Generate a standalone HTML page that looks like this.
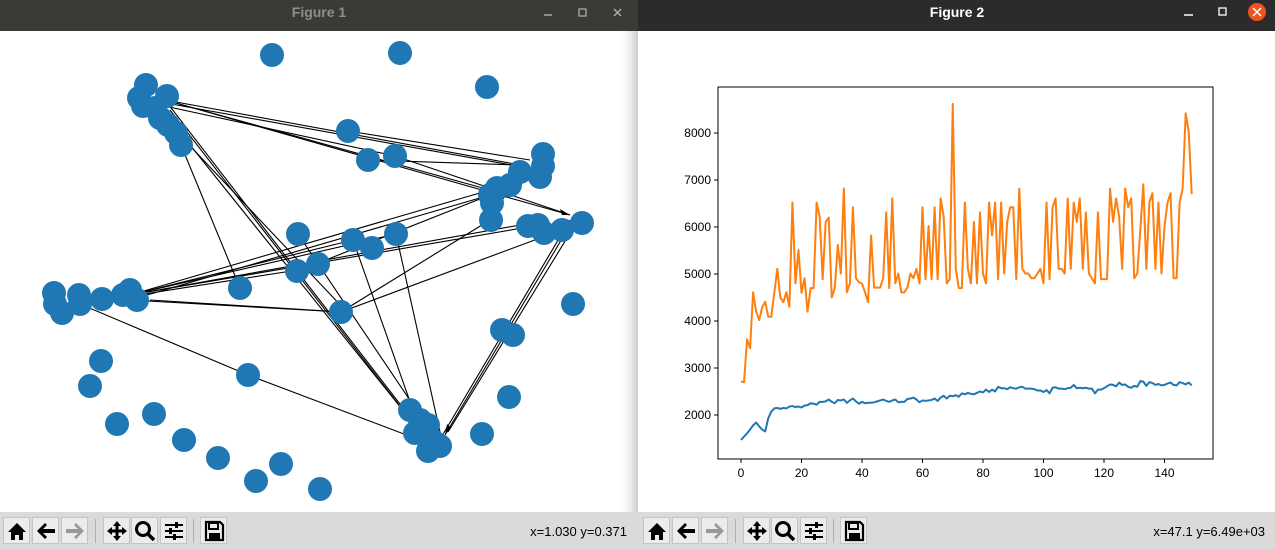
<!DOCTYPE html>
<html><head><meta charset="utf-8"><style>
html,body{margin:0;padding:0;width:1275px;height:549px;overflow:hidden;background:#fff;font-family:"Liberation Sans",sans-serif}
.btn{position:absolute;top:517px;width:27px;height:27px;background:#ececec;border:1px solid #c4c4c4;box-sizing:border-box}
.btn svg{position:absolute;left:0;top:0}
</style></head><body>
<svg width="1275" height="549" style="position:absolute;left:0;top:0">
 <defs><linearGradient id="sh" x1="0" x2="1"><stop offset="0" stop-color="#fff" stop-opacity="0"/><stop offset="1" stop-color="#ccc"/></linearGradient></defs>
 <rect x="0" y="0" width="638" height="31" fill="#3b3a37"/>
 <text x="319" y="17" font-size="14" font-weight="bold" fill="#8f8e8b" text-anchor="middle">Figure 1</text>
 <line x1="544" y1="15" x2="552" y2="15" stroke="#aaa" stroke-width="1.5"/>
 <rect x="579" y="9" width="7" height="7" fill="none" stroke="#aaa" stroke-width="1.3"/>
 <path d="M614 9 L621 16 M621 9 L614 16" stroke="#aaa" stroke-width="1.5"/>
 <rect x="618" y="31" width="20" height="481" fill="url(#sh)"/>
 <rect x="0" y="512" width="638" height="37" fill="#dadada"/>
 <text x="627" y="536" font-size="13" text-anchor="end" fill="#000">x=1.030 y=0.371</text>
 <g id="net"></g>
 <rect x="638" y="0" width="637" height="31" fill="#2c2a2a"/>
 <text x="957" y="17" font-size="14" font-weight="bold" fill="#fff" text-anchor="middle">Figure 2</text>
 <line x1="1184" y1="15" x2="1193" y2="15" stroke="#fff" stroke-width="1.5"/>
 <rect x="1219" y="8" width="7" height="7" fill="none" stroke="#fff" stroke-width="1.3"/>
 <circle cx="1257" cy="12" r="9" fill="#e95420"/>
 <path d="M1253 8 L1261 16 M1261 8 L1253 16" stroke="#fff" stroke-width="1.5"/>
 <rect x="638" y="512" width="637" height="37" fill="#dadada"/>
 <text x="1265" y="536" font-size="13" text-anchor="end" fill="#000">x=47.1 y=6.49e+03</text>
 <g id="chart"></g>
</svg>
<div id="tb"></div>
<script>
const xTicks=[0,20,40,60,80,100,120,140];
const yTicks=[2000,3000,4000,5000,6000,7000,8000];
const seriesA=[1470,1540,1610,1690,1780,1840,1760,1690,1650,1930,2070,
2140,2150,2130,2150,2140,2180,2190,2170,2180,2160,
2200,2210,2250,2240,2220,2280,2280,2290,2330,2280,
2250,2320,2310,2330,2260,2310,2350,2290,2240,2280,
2250,2260,2260,2270,2290,2310,2330,2300,2280,2310,
2330,2270,2280,2280,2340,2350,2370,2330,2270,2310,
2300,2310,2320,2350,2300,2370,2410,2350,2410,2400,
2420,2390,2460,2440,2470,2450,2440,2470,2500,2480,
2540,2490,2540,2500,2600,2570,2570,2550,2590,2570,
2560,2590,2600,2560,2560,2560,2550,2520,2520,2490,
2530,2460,2580,2590,2560,2560,2550,2570,2580,2640,
2570,2580,2570,2580,2560,2560,2460,2540,2540,2570,
2610,2650,2640,2610,2690,2640,2650,2600,2580,2620,
2600,2720,2710,2620,2700,2680,2640,2660,2630,2640,
2670,2690,2640,2630,2700,2680,2650,2690,2630];
const seriesB=[2710,2700,3610,3420,4610,4200,4020,4290,4410,4090,
4090,4590,5110,4500,4400,4610,4300,6520,4800,5510,
4600,4910,4200,4700,4700,6520,6220,4890,6110,6200,
4500,4700,5620,5010,6820,4610,4800,6420,4910,4820,
4800,4610,4400,5820,4710,4710,4710,4910,6310,4700,
6610,4800,5010,4610,4610,4710,5010,4910,5110,4800,
6420,4890,6020,4890,6420,4890,6610,6220,4800,4890,
8620,5110,4700,4700,6520,5110,4800,6110,4800,6310,
5010,4800,6520,5820,6520,4890,6520,5010,6110,6420,
6420,4890,6820,5110,5010,5010,4910,4910,5010,5110,
4800,6520,4890,6420,6610,5110,5110,5010,6610,5110,
6520,6110,6610,5110,6310,5010,4910,4800,6310,4890,
4890,4890,6820,6110,6610,6220,5110,6820,6420,6610,
4910,5010,5940,6910,5110,6520,6720,5110,6520,5010,
6010,6520,6720,4910,4910,6520,6820,8420,8030,6700];
const NS='http://www.w3.org/2000/svg';
function mk(tag,attrs,parent){const e=document.createElementNS(NS,tag);for(const k in attrs)e.setAttribute(k,attrs[k]);parent.appendChild(e);return e;}
const X=i=>741+3.025*i, Y=v=>415-(v-2000)*0.047;
const ch=document.getElementById('chart');
const frame=mk('rect',{x:718,y:87,width:495,height:372,fill:'none',stroke:'#000','stroke-width':1},ch);


xTicks.forEach(t=>{
 mk('line',{x1:X(t),x2:X(t),y1:459,y2:463,stroke:'#000'},ch);
 const tx=mk('text',{x:X(t),y:477,'font-size':12,'text-anchor':'middle',fill:'#000'},ch);tx.textContent=t;
 
 
});
yTicks.forEach(t=>{
 mk('line',{x1:714,x2:718,y1:Y(t),y2:Y(t),stroke:'#000'},ch);
 const tx=mk('text',{x:711,y:Y(t)+4,'font-size':12,'text-anchor':'end',fill:'#000'},ch);tx.textContent=t;
 
 
});
function line(arr,col,name){const p=mk('polyline',{points:arr.map((v,i)=>X(i)+','+Y(v)).join(' '),fill:'none',stroke:col,'stroke-width':2,'stroke-linejoin':'round'},ch);
 
 }
line(seriesA,'#1f77b4','series-blue');
line(seriesB,'#ff7f0e','series-orange');
const net=document.getElementById('net');
const edges=[[165,100,520,165],[165,100,570,215],[165,100,490,190],[160,102,528,168],[165,100,420,430],[170,110,420,432],[178,130,422,434],[175,130,345,310],[181,145,240,288],[160,105,395,156],
[130,295,490,190],[130,295,520,225],[130,295,540,225],[130,295,396,234],[130,295,353,240],[125,297,298,270],[130,300,341,312],[130,300,490,195],[80,304,248,375],[248,375,425,442],
[353,240,420,430],[396,234,440,432],[572,222,445,435],[575,225,448,432],[570,220,442,436],[341,312,490,220],[490,195,298,271],[395,156,570,215],[348,131,530,160],[368,160,520,165],[298,234,430,430],[341,312,575,225],[150,300,343,312],[510,190,490,215]];
edges.forEach(e=>{const l=mk('line',{x1:e[0],y1:e[1],x2:e[2],y2:e[3],stroke:'#000','stroke-width':1.1},net);
 
 });
const nodes=[[146,85],[139,98],[143,106],[155,108],[167,96],[160,118],[168,125],[176,133],[181,145],[272,55],[400,53],[487,87],[348,131],[368,160],[395,156],
[543,154],[543,166],[540,177],[520,172],[510,185],[497,188],[490,195],[492,203],[491,220],[528,226],[538,225],[544,233],[562,230],[582,223],
[298,234],[353,240],[372,248],[396,234],[297,271],[318,264],[240,288],
[54,293],[55,304],[62,313],[79,295],[80,304],[102,299],[123,295],[130,290],[137,300],
[341,312],[573,304],[502,330],[513,335],[101,361],[90,386],[248,375],[509,397],
[117,424],[154,414],[184,440],[218,458],[256,481],[281,464],[320,489],
[410,410],[420,420],[428,425],[415,433],[432,440],[440,446],[428,451],[482,434]];
nodes.forEach(n=>{const c=mk('circle',{cx:n[0],cy:n[1],r:12,fill:'#1f77b4'},net);
 
 });
mk('path',{d:'M570 215 l-10 -6 l2 6 z',fill:'#000'},net);
mk('path',{d:'M445 435 l2 -11 l4 4 z',fill:'#000'},net);
const icons={
'home-button':'<path d="M4 14 L13 5 L22 14 L19 14 L19 22 L15 22 L15 17 L11 17 L11 22 L7 22 L7 14 Z" fill="#000"/>',
'back-button':'<path d="M4 13 L12 5 L14 7 L10 11 L22 11 L22 15 L10 15 L14 19 L12 21 Z" fill="#000"/>',
'forward-button':'<path d="M22 13 L14 5 L12 7 L16 11 L4 11 L4 15 L16 15 L12 19 L14 21 Z" fill="#999"/>',
'pan-button':'<path d="M13 3 L17 8 L14.5 8 L14.5 11.5 L18 11.5 L18 9 L23 13 L18 17 L18 14.5 L14.5 14.5 L14.5 18 L17 18 L13 23 L9 18 L11.5 18 L11.5 14.5 L8 14.5 L8 17 L3 13 L8 9 L8 11.5 L11.5 11.5 L11.5 8 L9 8 Z" fill="#000"/>',
'zoom-button':'<circle cx="11" cy="11" r="6.5" fill="none" stroke="#000" stroke-width="3"/><line x1="15.5" y1="15.5" x2="22" y2="22" stroke="#000" stroke-width="3.5"/>',
'configure-button':'<g stroke="#000" stroke-width="2"><line x1="4" y1="7" x2="22" y2="7"/><line x1="4" y1="13" x2="22" y2="13"/><line x1="4" y1="19" x2="22" y2="19"/></g><rect x="14" y="4" width="3" height="6" fill="#000"/><rect x="8" y="10" width="3" height="6" fill="#000"/><rect x="12" y="16" width="3" height="6" fill="#000"/>',
'save-button':'<path d="M5 4 L19 4 L22 7 L22 22 L5 22 Z" fill="none" stroke="#000" stroke-width="2.2"/><rect x="8" y="5" width="9" height="6" fill="none" stroke="#000" stroke-width="2"/><rect x="8" y="15" width="11" height="6" fill="#000"/>'};
const tb=document.getElementById('tb');
const btns=[['home-button',3],['back-button',32],['forward-button',61],['pan-button',103],['zoom-button',131],['configure-button',160],['save-button',200]];
[0,640].forEach(off=>{btns.forEach(b=>{const d=document.createElement('div');d.className='btn';d.style.left=(b[1]+off)+'px';
 d.innerHTML='<svg width="26" height="26" viewBox="0 0 26 26">'+icons[b[0]]+'</svg>';
 
 
 tb.appendChild(d);});
 [95,193].forEach(s=>{const d=document.createElement('div');d.style.cssText='position:absolute;top:519px;width:1px;height:24px;background:#b0b0b0;left:'+(s+off)+'px';
 
 
 tb.appendChild(d);});});
</script>
</body></html>
